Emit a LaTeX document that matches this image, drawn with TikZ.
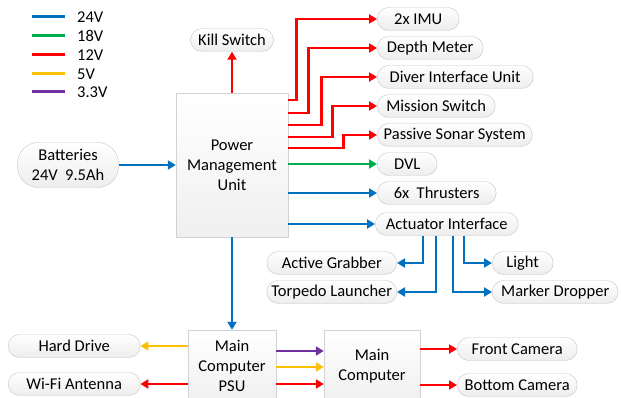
\documentclass[tikz,border=0pt]{standalone}
\usepackage{fontspec}
\setmainfont{Carlito}
\usepackage{tikz}
\usepackage{xcolor}
\usetikzlibrary{arrows.meta}
\definecolor{vblue}{RGB}{0,112,192}
\definecolor{vgreen}{RGB}{0,176,80}
\definecolor{vred}{RGB}{255,0,0}
\definecolor{vyellow}{RGB}{255,192,0}
\definecolor{vpurple}{RGB}{112,48,160}
\tikzset{%
  tipA/.tip={Triangle[length=8pt,width=9pt]},
  pill/.style={draw=gray!45, top color=white, bottom color=gray!14, rounded corners=11.5pt,
    minimum height=23pt, inner sep=2pt, font=\fontsize{16.5}{19}\selectfont},
  unitbox/.style={draw=gray!35, top color=white, bottom color=gray!12, align=center,
    font=\fontsize{16.5}{20}\selectfont},
  wire/.style={line width=2.6pt, -tipA},
  legline/.style={line width=3pt},
  legtext/.style={anchor=west, inner sep=0pt, font=\fontsize{16.5}{19}\selectfont}
}

\begin{document}
\begin{tikzpicture}[x=1pt,y=-1pt]
    \useasboundingbox (0,0) rectangle (621,398);
    % legend
    \draw[vblue, legline] (32,17) -- (65,17);
    \node[legtext] (l24) at (77,17) {24V};
    \draw[vgreen, legline] (32,36) -- (65,36);
    \node[legtext] (l18) at (77,36) {18V};
    \draw[vred, legline] (32,55) -- (65,55);
    \node[legtext] (l12) at (77,55) {12V};
    \draw[vyellow, legline] (32,74) -- (65,74);
    \node[legtext] (l5) at (77,74) {5V};
    \draw[vpurple, legline] (32,92) -- (65,92);
    \node[legtext] (l33) at (77,92) {3.3V};

    \node[unitbox, minimum width=112pt, minimum height=144pt] (pmu) at (232,165) {Power\\Management\\Unit};
    \node[unitbox, minimum width=88pt, minimum height=72pt] (psu) at (232,366) {Main\\Computer\\PSU};
    \node[unitbox, minimum width=96pt, minimum height=72pt] (mc) at (372,366) {Main\\Computer};

    \node[pill, rounded corners=21pt, minimum width=101pt, minimum height=45pt, align=center,
      font=\fontsize{16.5}{20}\selectfont] (bat) at (68,165) {Batteries\\24V\ \ 9.5Ah};
    \node[pill, minimum width=83pt] (killsw) at (232,40) {Kill Switch};
    \node[pill, anchor=west, minimum width=82pt] (imu) at (377,19) {2x IMU};
    \node[pill, anchor=west, minimum width=106pt] (depth) at (377,48) {Depth Meter};
    \node[pill, anchor=west, minimum width=156pt] (diver) at (377,77) {Diver Interface Unit};
    \node[pill, anchor=west, minimum width=118pt] (mission) at (377,106) {Mission Switch};
    \node[pill, anchor=west, minimum width=155pt] (sonar) at (377,135) {Passive Sonar System};
    \node[pill, anchor=west, minimum width=60pt] (dvl) at (377,164) {DVL};
    \node[pill, anchor=west, minimum width=119pt] (thrust) at (377,193) {6x\ \ Thrusters};
    \node[pill, anchor=west, minimum width=143pt] (act) at (375,224) {Actuator Interface};
    \node[pill, anchor=east, minimum width=130pt] (grab) at (397,263) {Active Grabber};
    \node[pill, anchor=east, minimum width=130pt] (torp) at (397,292) {Torpedo Launcher};
    \node[pill, anchor=west, minimum width=61pt] (light) at (492,263) {Light};
    \node[pill, anchor=west, minimum width=126pt] (marker) at (492,292) {Marker Dropper};
    \node[pill, anchor=west, minimum width=132pt] (hdd) at (8,346) {Hard Drive};
    \node[pill, anchor=west, minimum width=132pt] (wifi) at (8,384) {Wi-Fi Antenna};
    \node[pill, anchor=west, minimum width=120pt] (front) at (457,349) {Front Camera};
    \node[pill, anchor=west, minimum width=120pt] (bottom) at (457,385) {Bottom Camera};

    \draw[vblue, wire] (bat) -- (pmu);
    \draw[vred, wire] (pmu) -- (killsw);
    \draw[vred, wire] (pmu.east |- 0,100) -- ++(8,0) |- (imu);
    \draw[vred, wire] (pmu.east |- 0,113) -- ++(20,0) |- (depth);
    \draw[vred, wire] (pmu.east |- 0,125) -- ++(33,0) |- (diver);
    \draw[vred, wire] (pmu.east |- 0,137) -- ++(44,0) |- (mission);
    \draw[vred, wire] (pmu.east |- 0,148) -- ++(55,0) |- (sonar);
    \draw[vgreen, wire] (pmu.east |- dvl) -- (dvl);
    \draw[vblue, wire] (pmu.east |- thrust) -- (thrust);
    \draw[vblue, wire] (pmu.east |- act) -- (act);
    \draw[vblue, wire] (act.south -| 423,0) |- (grab);
    \draw[vblue, wire] (act.south -| 436,0) |- (torp);
    \draw[vblue, wire] (act.south -| 453,0) |- (marker);
    \draw[vblue, wire] (act.south -| 464,0) |- (light);
    \draw[vblue, wire] (pmu) -- (psu);
    \draw[vyellow, wire] (psu.west |- hdd) -- (hdd);
    \draw[vred, wire] (psu.west |- wifi) -- (wifi);
    \draw[vpurple, wire] (psu.east |- 0,351) -- (mc.west |- 0,351);
    \draw[vyellow, wire] (psu.east |- 0,367) -- (mc.west |- 0,367);
    \draw[vred, wire] (psu.east |- 0,384) -- (mc.west |- 0,384);
    \draw[vred, wire] (mc.east |- front) -- (front);
    \draw[vred, wire] (mc.east |- bottom) -- (bottom);
\end{tikzpicture}
\end{document}
